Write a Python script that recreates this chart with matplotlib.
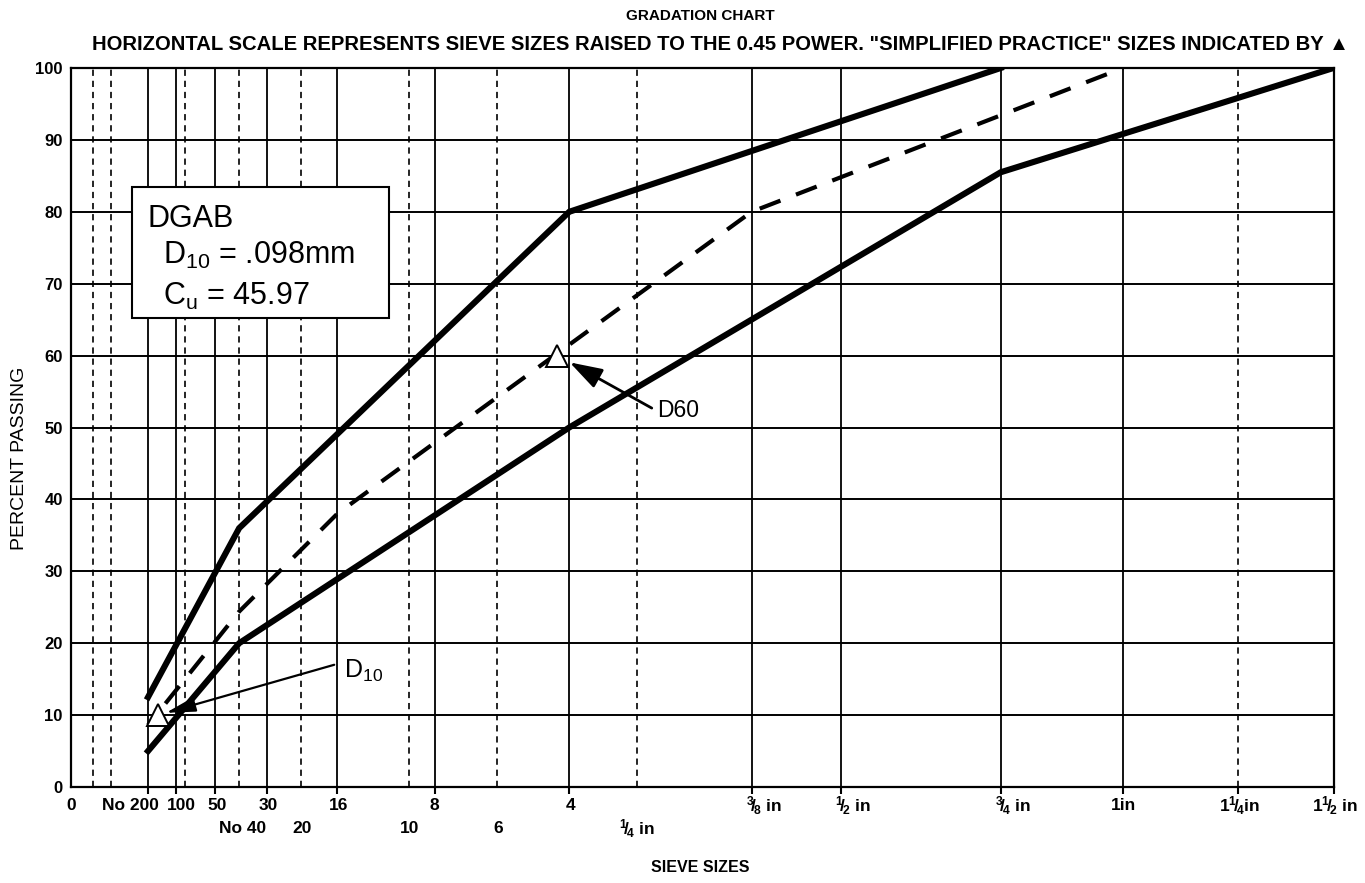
import numpy as np
import matplotlib
matplotlib.use('Agg')
import matplotlib.pyplot as plt
from matplotlib.patches import Rectangle
import matplotlib.transforms as mtransforms

plt.rcParams['font.family'] = ['Liberation Sans', 'DejaVu Sans']
plt.rcParams['mathtext.fontset'] = 'custom'
plt.rcParams['mathtext.rm'] = 'Liberation Sans'
plt.rcParams['mathtext.it'] = 'Liberation Sans:italic'
plt.rcParams['mathtext.bf'] = 'Liberation Sans:bold'
plt.rcParams['lines.scale_dashes'] = False

EXP = 0.45

# ---- data -------------------------------------------------------------
solid_sieves = [0.075, 0.15, 0.30, 0.60, 1.18, 2.36, 4.75, 9.5, 12.5, 19.0, 25.0]
dashed_sieves = [0.0045, 0.0175, 0.18, 0.425, 0.85, 2.0, 3.35, 6.3, 31.5]
tick_sizes = [0.075, 0.15, 0.30, 0.60, 1.18, 2.36, 4.75, 9.5, 12.5, 19.0, 25.0, 31.5, 37.5]
x_max = 37.5

row1_labels = ['0', 'No 200', '100', '50', '30', '16', '8', '4',
               r'$\mathbf{{}^{3}\!/\!{}_{8}}$ in', r'$\mathbf{{}^{1}\!/\!{}_{2}}$ in',
               r'$\mathbf{{}^{3}\!/\!{}_{4}}$ in', '1in',
               r'$\mathbf{1{}^{1}\!/\!{}_{4}}$in', r'$\mathbf{1{}^{1}\!/\!{}_{2}}$ in']
row1_sizes = [0, 0.075, 0.15, 0.30, 0.60, 1.18, 2.36, 4.75,
              9.5, 12.5, 19.0, 25.0, 31.5, 37.5]
row1_dx = [0, -18, 5, 2, 1, 1, 0, 1, 12, 12, 12, 1, 1, 1]
row2_labels = ['No 40', '20', '10', '6', r'$\mathbf{{}^{1}\!/\!{}_{4}}$ in']
row2_sizes = [0.425, 0.85, 2.0, 3.35, 6.3]
row2_dx = [3, 1, 1, 1, 0]

y_ticks = [0, 10, 20, 30, 40, 50, 60, 70, 80, 90, 100]

upper_size = [0.075, 0.425, 4.75, 19.0]
upper_pct = [12.5, 36.0, 80.0, 100.0]
lower_size = [0.075, 0.425, 4.75, 19.0, 37.5]
lower_pct = [5.0, 20.0, 50.0, 85.5, 100.0]
dgab_size = [0.075, 0.425, 1.18, 9.5, 25.0]
dgab_pct = [8.6, 24.4, 38.0, 80.0, 100.0]

d10 = 0.098
cu = 45.97
d60 = d10 * cu

# ---- figure -----------------------------------------------------------
W, H = 1365, 883
fig = plt.figure(figsize=(W / 100, H / 100), dpi=100)
ax = fig.add_axes([71 / W, 1 - 787 / H, (1333.5 - 71) / W, (787 - 68) / H])

fwd = lambda x: np.sign(x) * np.abs(x) ** EXP
inv = lambda y: np.sign(y) * np.abs(y) ** (1 / EXP)
ax.set_xscale('function', functions=(fwd, inv))
ax.set_xlim(0, x_max)
ax.set_ylim(0, 100)

for y in y_ticks[1:-1]:
    ax.axhline(y, color='black', lw=1.4, zorder=1)
for s in solid_sieves:
    ax.axvline(s, color='black', lw=1.3, zorder=1)
for s in dashed_sieves:
    ax.axvline(s, color='black', lw=1.2, ls=(0, (4.5, 3.5)), zorder=1)

ax.plot(upper_size, upper_pct, color='black', lw=4.4, solid_joinstyle='miter', zorder=3)
ax.plot(lower_size, lower_pct, color='black', lw=4.4, solid_joinstyle='miter', zorder=3)
ax.plot(dgab_size, dgab_pct, color='black', lw=3.0, ls=(8, (16, 12)), zorder=3)

ax.plot([d10], [10], marker='^', ms=16.5, mfc='white', mec='black', mew=1.4, zorder=6, ls='none')
ax.plot([d60], [60], marker='^', ms=16.5, mfc='white', mec='black', mew=1.4, zorder=6, ls='none')

ax.annotate('', xy=(d10, 10), xycoords='data', xytext=(0.2085, 0.170), textcoords='axes fraction',
            arrowprops=dict(arrowstyle='-|>,head_length=0.9,head_width=0.22', lw=1.6, color='black',
                            shrinkA=0, shrinkB=6, mutation_scale=20), zorder=5)
ax.text(0.2165, 0.161, 'D$_{10}$', transform=ax.transAxes, ha='left', va='center', fontsize=18)

ax.annotate('', xy=(d60, 60), xycoords='data', xytext=(0.460, 0.527), textcoords='axes fraction',
            arrowprops=dict(arrowstyle='-|>,head_length=1.0,head_width=0.32', lw=2.0, color='black',
                            shrinkA=0, shrinkB=10, mutation_scale=20), zorder=5)
ax.text(0.464, 0.523, 'D60', transform=ax.transAxes, ha='left', va='center', fontsize=16.5)

# axes styling
for sp in ax.spines.values():
    sp.set_linewidth(1.6)
ax.set_xticks(tick_sizes)
ax.set_xticklabels([])
ax.xaxis.set_minor_locator(matplotlib.ticker.NullLocator())
ax.tick_params(axis='x', direction='out', length=5, width=1.5)
ax.set_yticks(y_ticks)
ax.set_yticklabels([str(v) for v in y_ticks], fontweight='bold', fontsize=12)
ax.tick_params(axis='y', length=0, pad=6)

blend = mtransforms.blended_transform_factory(ax.transData, ax.transAxes)
for lab, s, dx in zip(row1_labels, row1_sizes, row1_dx):
    tr = blend + mtransforms.ScaledTranslation(dx / 100, 0, fig.dpi_scale_trans)
    ax.text(s, -0.0264, lab, transform=tr, ha='center', va='center', fontsize=12.5,
            fontweight='bold', clip_on=False)
for lab, s, dx in zip(row2_labels, row2_sizes, row2_dx):
    tr = blend + mtransforms.ScaledTranslation(dx / 100, 0, fig.dpi_scale_trans)
    ax.text(s, -0.0584, lab, transform=tr, ha='center', va='center', fontsize=12.5,
            fontweight='bold', clip_on=False)

# info box
box = Rectangle((132 / W, 1 - 318 / H), 257 / W, 131 / H, transform=fig.transFigure,
                facecolor='white', edgecolor='black', lw=1.5, zorder=10)
fig.add_artist(box)
fig.text(147 / W, 1 - 226.7 / H, 'DGAB', fontsize=22, va='baseline', ha='left', zorder=11)
fig.text(163 / W, 1 - 264 / H, 'D$_{10}$ = .098mm', fontsize=22, va='baseline', ha='left', zorder=11)
fig.text(163 / W, 1 - 305 / H, 'C$_{\\mathregular{u}}$ = 45.97', fontsize=22, va='baseline', ha='left', zorder=11)

# titles
fig.text(700 / W, 1 - 16 / H, 'GRADATION CHART', fontsize=11, fontweight='bold', ha='center', va='center')
fig.text(721 / W, 1 - 44 / H,
         'HORIZONTAL SCALE REPRESENTS SIEVE SIZES RAISED TO THE 0.45 POWER. "SIMPLIFIED PRACTICE" SIZES INDICATED BY ▲',
         fontsize=14.6, fontweight='bold', ha='center', va='center')
fig.text(700 / W, 1 - 868 / H, 'SIEVE SIZES', fontsize=11.5, fontweight='bold', ha='center', va='center')
fig.text(20 / W, 1 - 458 / H, 'PERCENT PASSING', fontsize=14, rotation=90, ha='center', va='center')

fig.savefig('out.png', dpi=100)
